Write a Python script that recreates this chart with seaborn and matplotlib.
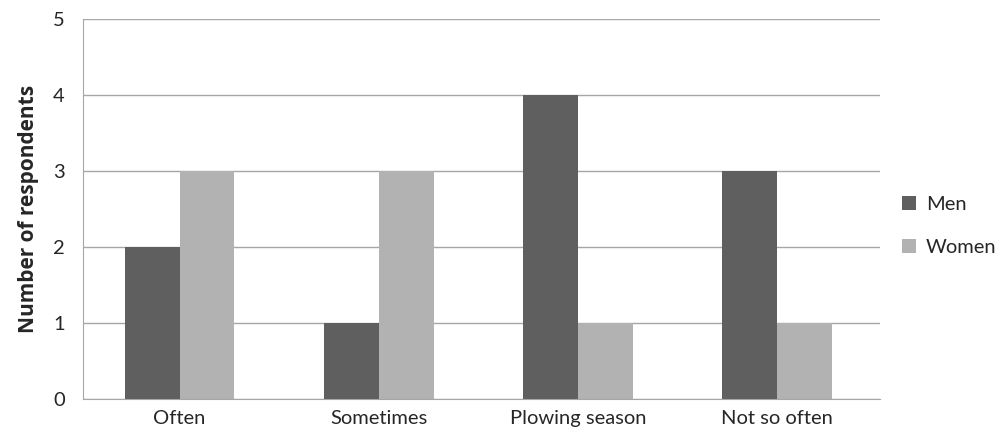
import pandas as pd
import matplotlib.pyplot as plt
import seaborn as sns

categories = ['Often', 'Sometimes', 'Plowing season', 'Not so often']
men = [2, 1, 4, 3]
women = [3, 3, 1, 1]

df = pd.DataFrame({
    'category': categories * 2,
    'value': men + women,
    'group': ['Men'] * 4 + ['Women'] * 4,
})

sns.set_style('white')
plt.rcParams['font.family'] = ['Lato', 'DejaVu Sans']

fig = plt.figure(figsize=(10.03, 4.48), dpi=100)
ax = fig.add_axes([0.0828, 0.1094, 0.7942, 0.8471])

sns.barplot(data=df, x='category', y='value', hue='group',
            palette=['#5f5f5f', '#b2b2b2'], width=0.55, saturation=1,
            linewidth=0, ax=ax)

ax.set_ylim(0, 5)
ax.set_yticks(range(0, 6))
ax.set_xlim(-0.485, 3.515)
ax.yaxis.grid(True, color='#a6a6a6', linewidth=1)
ax.set_axisbelow(True)
for s in ['top', 'right']:
    ax.spines[s].set_visible(False)
ax.spines['left'].set_color('#a6a6a6')
ax.spines['bottom'].set_color('#a6a6a6')
ax.tick_params(axis='y', length=8, color='#a6a6a6', labelsize=14.5, pad=5)
ax.tick_params(axis='x', length=0, labelsize=14.5, pad=8)
ax.set_xlabel('')
ax.set_ylabel('Number of respondents', fontsize=15, fontweight='bold',
              family=['Open Sans', 'DejaVu Sans'], labelpad=10)

ax.legend(loc='center left', bbox_to_anchor=(1.005, 0.456), frameon=False,
          fontsize=14.5, handlelength=0.7, handleheight=0.7, labelspacing=1.3,
          handletextpad=0.5)

fig.savefig('out.png', dpi=100)
